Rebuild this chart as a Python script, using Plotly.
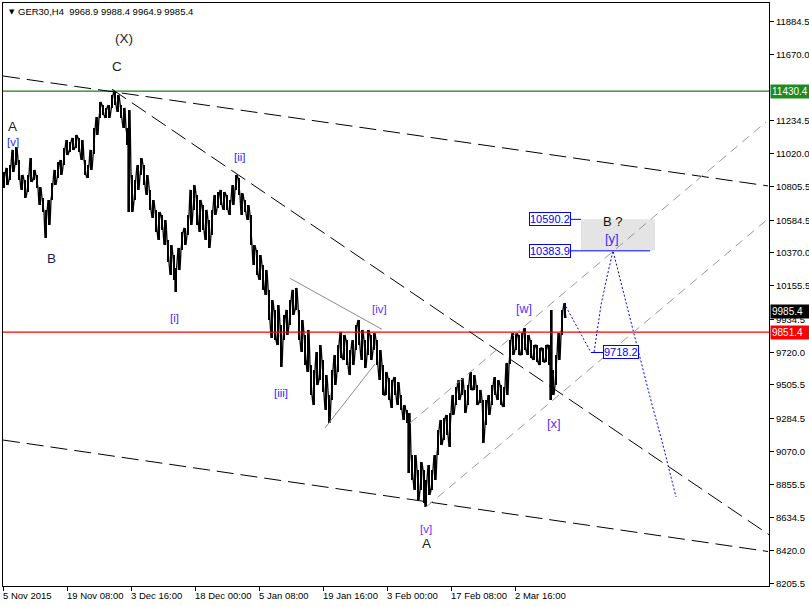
import plotly.graph_objects as go

# ---------------- data ----------------
bar_idx = [1, 4, 7, 10, 13, 16, 19, 22, 25, 28, 31, 34, 37, 40, 43, 46, 49, 52, 55, 58,
           61, 64, 67, 70, 73, 76, 79, 82, 85, 88, 91, 94, 97, 100, 103, 106, 109, 112, 115, 118,
           121, 124, 126, 129, 132, 135, 138, 141, 144, 147, 150, 153, 156, 159, 162, 165, 168, 171, 173, 176,
           179, 182, 185, 188, 191, 194, 197, 200, 203, 206, 209, 212, 215, 218, 221, 224, 227, 230, 233, 236,
           239, 242, 245, 248, 251, 254, 257, 260, 263, 266, 269, 272, 275, 278, 281, 284, 287, 290, 293, 296,
           299, 302, 305, 308, 311, 314, 317, 320, 323, 326, 329, 332, 335, 338, 341, 344, 347, 350, 353, 356,
           359, 362, 365, 368, 371, 374, 377, 380, 383, 386, 389, 392, 395, 398, 401, 404, 406, 409, 412, 415,
           418, 421, 423, 426, 429, 432, 435, 438, 441, 444, 447, 450, 453, 456, 459, 462, 465, 468, 471, 474,
           477, 480, 483, 486, 489, 492, 495, 498, 501, 504, 507, 510, 513, 516, 519, 522, 525, 528, 531, 534,
           537, 540, 543, 546, 548, 550, 553, 556, 559, 562]
bar_high = [10900, 10927, 10946, 11045, 11064, 10979, 10881, 10848, 10881, 10992, 10914, 10881, 10800, 10730, 10650, 10717, 10828, 10914, 10966, 10979,
            11058, 11110, 11097, 11123, 11143, 11123, 11110, 10979, 10946, 11045, 11189, 11260, 11359, 11339, 11320, 11339, 11405, 11431, 11405, 11339,
            11320, 11189, 11306, 10881, 10848, 10946, 10992, 10946, 10881, 10783, 10717, 10652, 10638, 10619, 10586, 10455, 10422, 10357, 10272, 10403,
            10507, 10534, 10619, 10783, 10815, 10750, 10717, 10684, 10652, 10586, 10652, 10750, 10769, 10783, 10769, 10750, 10717, 10815, 10881, 10861,
            10760, 10717, 10684, 10619, 10422, 10390, 10357, 10291, 10259, 10128, 10062, 9997, 10029, 9898, 9964, 9997, 10062, 10128, 10141, 9997,
            9931, 9833, 9866, 9636, 9603, 9721, 9767, 9669, 9571, 9440, 9603, 9702, 9767, 9853, 9833, 9800, 9734, 9800, 9898, 9931,
            9866, 9800, 9866, 9833, 9846, 9800, 9734, 9636, 9590, 9551, 9538, 9558, 9525, 9440, 9374, 9342, 9322, 9047, 9047, 8949,
            9001, 8949, 8883, 8981, 8949, 9047, 9211, 9276, 9289, 9309, 9320, 9440, 9492, 9538, 9551, 9473, 9505, 9590, 9571, 9505,
            9473, 9407, 9407, 9440, 9505, 9558, 9538, 9505, 9492, 9650, 9800, 9846, 9846, 9833, 9846, 9879, 9833, 9800, 9767, 9767,
            9748, 9748, 9767, 9767, 9997, 9603, 9702, 9846, 9997, 10042]
bar_low = [10796, 10815, 10848, 10900, 10946, 10848, 10783, 10730, 10769, 10835, 10848, 10796, 10684, 10638, 10468, 10553, 10717, 10815, 10861, 10881,
           10946, 11012, 11031, 11045, 11058, 11031, 10979, 10881, 10861, 10914, 11020, 11143, 11254, 11274, 11254, 11254, 11320, 11339, 11293, 11254,
           11189, 11077, 10638, 10638, 10717, 10783, 10881, 10815, 10750, 10652, 10599, 10507, 10455, 10521, 10422, 10311, 10226, 10193, 10114, 10259,
           10390, 10422, 10488, 10553, 10652, 10553, 10507, 10521, 10455, 10403, 10488, 10619, 10665, 10684, 10652, 10652, 10619, 10684, 10783, 10750,
           10619, 10638, 10586, 10422, 10291, 10226, 10193, 10128, 10095, 9931, 9813, 9800, 9767, 9623, 9800, 9833, 9898, 9964, 9997, 9800,
           9721, 9636, 9590, 9440, 9374, 9505, 9538, 9459, 9342, 9256, 9407, 9505, 9590, 9682, 9669, 9636, 9571, 9636, 9734, 9767,
           9669, 9617, 9702, 9669, 9734, 9636, 9538, 9440, 9440, 9407, 9355, 9440, 9374, 9342, 9276, 9256, 8929, 8883, 8818, 8752,
           8818, 8732, 8706, 8785, 8818, 8883, 9047, 9112, 9145, 9178, 9099, 9309, 9374, 9407, 9440, 9322, 9374, 9473, 9473, 9374,
           9387, 9125, 9243, 9309, 9374, 9440, 9407, 9374, 9361, 9440, 9640, 9702, 9734, 9702, 9702, 9734, 9702, 9682, 9669, 9656,
           9636, 9656, 9656, 9636, 9407, 9440, 9505, 9669, 9830, 9944]

x_tick_idx = [0, 64, 128, 192, 256, 320, 384, 448, 512]
x_tick_labels = ["5 Nov 2015", "19 Nov 08:00", "3 Dec 16:00", "18 Dec 00:00", "5 Jan 08:00",
                 "19 Jan 16:00", "3 Feb 00:00", "17 Feb 08:00", "2 Mar 16:00"]
y_ticks = [8205.5, 8420.0, 8634.5, 8855.5, 9070.0, 9284.5, 9505.5, 9720.0, 9934.5, 10155.5,
           10370.0, 10584.5, 10805.5, 11020.0, 11234.5, 11670.0, 11884.5]

level_green = 11430.4
level_red = 9851.4
last_price = 9985.4
title_text = "GER30,H4  9968.9 9988.4 9964.9 9985.4"

# lines: x0, y0, x1, y1 (bar index, price)
upper_trend = [0, 11529, 765, 10809]
c_trend = [109, 11442, 766, 8525]
lower_trend = [0, 9145, 765, 8415]
tri_upper = [287, 10204, 379, 9870]
tri_lower = [322, 9224, 372, 9643]
chan_lower = [423, 8706, 765, 10593]
chan_upper = [407, 9256, 763, 11228]

proj_x = [561, 577, 588, 591, 594, 598, 604, 610, 630, 647, 660, 673]
proj_y = [10042, 9846, 9718.2, 9718.2, 9866, 10029, 10213, 10383.9, 9866, 9427, 9112, 8772]

target_values = [10590.2, 10383.9, 9718.2]
target_box_x = [547, 547, 618]
target_line_x = [[568, 578], [568, 647], [589, 600]]
zone_x = [578, 652]

# wave labels: text, bar index, price, colour, size
wave_labels = [
    ("(X)", 121, 11772, "#222222", 13.5),
    ("C", 114, 11588, "#222222", 13.5),
    ("A", 9, 11195, "#222222", 13.5),
    ("[v]", 10, 11097, "#2a2aff", 11.5),
    ("B", 48, 10331, "#1a1a50", 13.5),
    ("[i]", 171, 9944, "#4a2aff", 11.5),
    ("[ii]", 237, 10999, "#2a2aff", 11.5),
    ("[iii]", 278, 9453, "#2a2aff", 11.5),
    ("[iv]", 376, 10003, "#5a30ff", 11.5),
    ("[v]", 423, 8562, "#6a30ff", 11.5),
    ("A", 423, 8470, "#222222", 13.5),
    ("[w]", 521, 10003, "#5a30ff", 12.5),
    ("[x]", 551, 9256, "#5a30ff", 13),
    ("B ?", 610, 10573, "#111111", 13),
    ("[y]", 609, 10468, "#3a2aff", 13),
]

FONT = "Liberation Sans"

# ---------------- figure ----------------
fig = go.Figure()

# high-low bars
fig.add_trace(go.Bar(
    x=bar_idx,
    y=[h - l for h, l in zip(bar_high, bar_low)],
    base=bar_low,
    width=1.8,
    marker=dict(color="black", line=dict(width=0)),
    hoverinfo="skip",
    showlegend=False,
))

# zig-zag stroke through the same highs / lows (mimics densely packed 1-px bars)
zz_x, zz_y = [], []
for k, (xi, hi, lo) in enumerate(zip(bar_idx, bar_high, bar_low)):
    zz_x += [xi - 1, xi + 1]
    zz_y += [lo, hi] if k % 2 == 0 else [hi, lo]
fig.add_trace(go.Scatter(
    x=zz_x, y=zz_y, mode="lines",
    line=dict(color="black", width=1.3),
    hoverinfo="skip", showlegend=False,
))

fig.add_trace(go.Scatter(
    x=proj_x, y=proj_y, mode="lines",
    line=dict(color="#0000ff", width=1, dash="2px,2px"),
    hoverinfo="skip", showlegend=False,
))

shapes = []
shapes.append(dict(type="rect", xref="x", yref="y", x0=zone_x[0], x1=zone_x[1],
                   y0=target_values[1], y1=target_values[0],
                   fillcolor="#e4e4e4", line=dict(width=0), layer="below"))
shapes.append(dict(type="line", xref="paper", yref="y", x0=0, x1=1, y0=level_green, y1=level_green,
                   line=dict(color="#1f7a1f", width=1.3)))
shapes.append(dict(type="line", xref="paper", yref="y", x0=0, x1=1, y0=level_red, y1=level_red,
                   line=dict(color="#ff0000", width=1.3)))
for ln in (upper_trend, c_trend, lower_trend):
    shapes.append(dict(type="line", xref="x", yref="y", x0=ln[0], y0=ln[1], x1=ln[2], y1=ln[3],
                       line=dict(color="black", width=1, dash="17px,7px")))
for ln in (tri_upper, tri_lower):
    shapes.append(dict(type="line", xref="x", yref="y", x0=ln[0], y0=ln[1], x1=ln[2], y1=ln[3],
                       line=dict(color="#8c8c8c", width=1)))
for ln in (chan_lower, chan_upper):
    shapes.append(dict(type="line", xref="x", yref="y", x0=ln[0], y0=ln[1], x1=ln[2], y1=ln[3],
                       line=dict(color="#999999", width=1, dash="9px,6px")))
for val, lx in zip(target_values, target_line_x):
    shapes.append(dict(type="line", xref="x", yref="y", x0=lx[0], x1=lx[1], y0=val, y1=val,
                       line=dict(color="#0000ff", width=1)))

annotations = []
for text, xi, yv, col, sz in wave_labels:
    annotations.append(dict(x=xi, y=yv, xref="x", yref="y", text=text, showarrow=False,
                            font=dict(family=FONT, size=sz, color=col)))

for val, bx in zip(target_values, target_box_x):
    annotations.append(dict(x=bx, y=val, xref="x", yref="y", text=f"{val:.1f}", showarrow=False,
                            font=dict(family=FONT, size=11, color="#0000ff"),
                            bgcolor="white", bordercolor="#0000ff", borderwidth=1, borderpad=0))

for val, bg in ((level_green, "#1f8a1f"), (level_red, "#ff0000"), (last_price, "#000000")):
    annotations.append(dict(x=1, y=val, xref="paper", yref="y", text=f"{val:.1f}", showarrow=False,
                            xanchor="left", xshift=1, width=37, align="left",
                            font=dict(family=FONT, size=10, color="white"),
                            bgcolor=bg, borderpad=1))

for xi, lab in zip(x_tick_idx, x_tick_labels):
    annotations.append(dict(x=xi, y=0, xref="x", yref="paper", text=lab, showarrow=False,
                            xanchor="left", yanchor="top", xshift=-2, yshift=-2,
                            font=dict(family=FONT, size=9.5, color="black")))

annotations.append(dict(x=0, y=1.0, xref="paper", yref="paper", text="\u25bc", showarrow=False,
                        xanchor="left", yanchor="top", xshift=4, yshift=-3,
                        font=dict(family="DejaVu Sans", size=7, color="black")))
annotations.append(dict(x=0, y=1.0, xref="paper", yref="paper", text=title_text, showarrow=False,
                        xanchor="left", yanchor="top", xshift=13, yshift=-1,
                        font=dict(family=FONT, size=9.5, color="black")))

fig.update_layout(
    width=809, height=607,
    margin=dict(l=3, r=40, t=3, b=21),
    paper_bgcolor="white", plot_bgcolor="white",
    showlegend=False, bargap=0, barmode="overlay",
    shapes=shapes, annotations=annotations,
    font=dict(family=FONT, size=9.5, color="black"),
)
fig.update_xaxes(range=[0, 766], showgrid=False, zeroline=False,
                 showline=True, linecolor="black", linewidth=1, mirror=True,
                 tickvals=x_tick_idx, ticks="outside", ticklen=4, tickcolor="black",
                 showticklabels=False)
fig.update_yaxes(range=[8189, 12007], side="right", showgrid=False, zeroline=False,
                 showline=True, linecolor="black", linewidth=1, mirror=True,
                 tickvals=y_ticks, ticktext=[f"{v:.1f}" for v in y_ticks],
                 ticks="outside", ticklen=4, tickcolor="black", automargin=False,
                 tickfont=dict(family=FONT, size=9.5, color="black"))

fig.write_html("out.html", config={"displayModeBar": False},
               post_script="document.body.style.margin='0';document.body.style.overflow='hidden';")
